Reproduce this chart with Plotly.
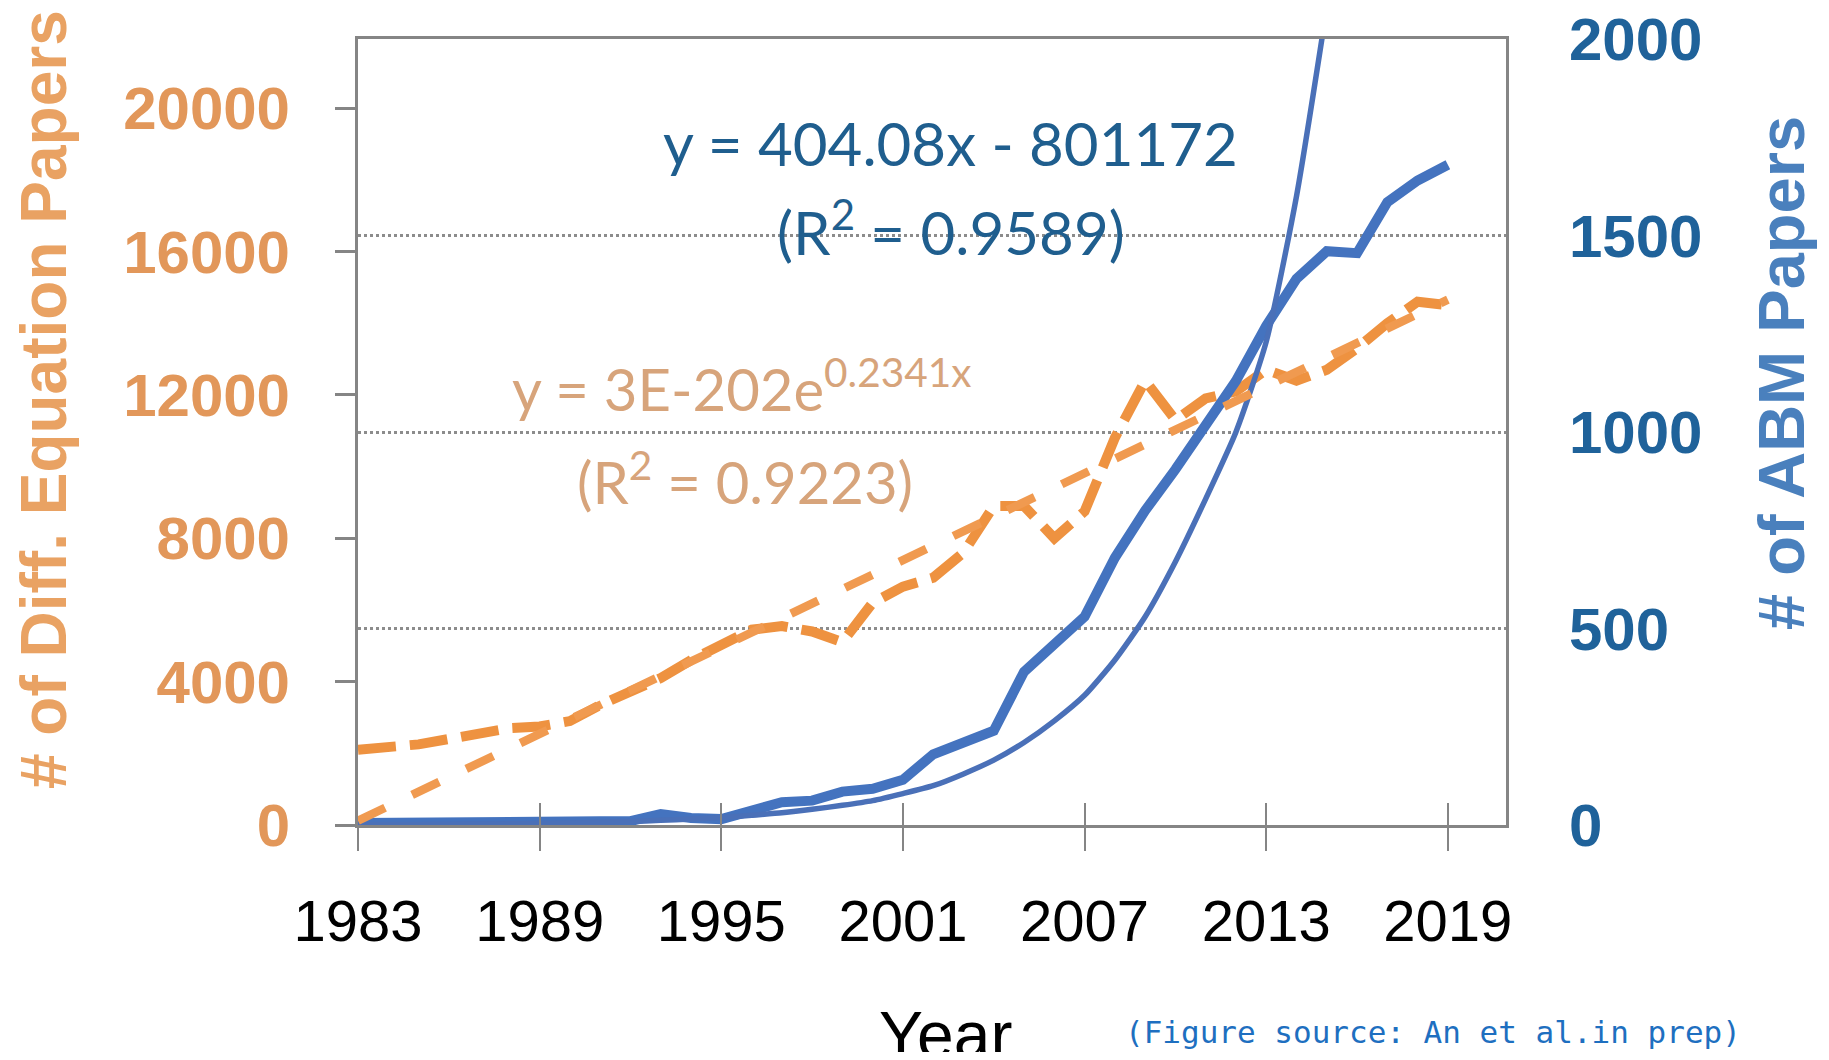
import plotly.graph_objects as go

# ---------------- data ----------------
years = list(range(1983, 2020))

# Differential-equation papers (left axis)
diff_eq_papers = [2100, 2150, 2250, 2400, 2550, 2700, 2750, 2900, 3350, 3700,
                  4100, 4600, 5000, 5450, 5550, 5400, 5100, 6200, 6650, 6900,
                  7600, 8900, 8900, 8000, 8750, 10800, 12400, 11300, 11900, 12100,
                  12700, 12400, 12700, 13300, 14000, 14600, 14500]

# linear trend line of the diff-eq papers (end points)
diff_trend_years = [1983, 2019]
diff_trend_vals = [120, 14660]

# ABM papers (right axis)
abm_papers = [5, 5, 5, 5, 5, 5, 5, 5, 5, 10,
              28, 18, 15, 35, 58, 62, 85, 92, 115, 180,
              210, 240, 390, 460, 530, 680, 800, 905, 1015, 1130,
              1270, 1390, 1460, 1455, 1585, 1640, 1680]

# exponential trend line of the ABM papers (leaves the top)
abm_trend_years = list(range(1983, 2016))
abm_trend_vals = [1, 1.2, 1.5, 2, 2.5, 3, 4, 5, 7, 9,
                  12, 15, 19, 25, 31, 40, 50, 62, 80, 100,
                  130, 165, 210, 265, 330, 420, 530, 670, 830, 1000,
                  1230, 1600, 2080]

x_tick_vals = [1983, 1989, 1995, 2001, 2007, 2013, 2019]
left_tick_vals = [0, 4000, 8000, 12000, 16000, 20000]
right_tick_vals = [0, 500, 1000, 1500, 2000]

# ---------------- layout geometry ----------------
# the page body has an 8px margin, so the figure is a little smaller
OFF = 8
W, H = 1829 - 2 * OFF, 1060 - 2 * OFF
# plot area in page pixels
L, R, T, B = 358, 1506, 39, 825


def px_x(p):
    return (p - L) / (R - L)


def px_y(p):
    return (B - p) / (B - T)


ORANGE = "#EE9240"
ORANGE_T = "#F09A50"
BLUE = "#4473BF"
BLUE_T = "#4A70B8"
AXIS_GREY = "#858585"

fig = go.Figure()

fig.add_trace(go.Scatter(
    x=years, y=abm_papers, mode="lines", xaxis="x", yaxis="y2",
    line=dict(color=BLUE, width=10), name="ABM papers", showlegend=False))
fig.add_trace(go.Scatter(
    x=abm_trend_years, y=abm_trend_vals, mode="lines", xaxis="x", yaxis="y2",
    line=dict(color=BLUE_T, width=5.5, shape="spline", smoothing=0.6),
    name="ABM trend", showlegend=False))
fig.add_trace(go.Scatter(
    x=diff_trend_years, y=diff_trend_vals, mode="lines", xaxis="x3", yaxis="y",
    line=dict(color=ORANGE_T, width=8.5, dash="30px,30px"),
    name="Diff. eq. trend", showlegend=False))
fig.add_trace(go.Scatter(
    x=years, y=diff_eq_papers, mode="lines", xaxis="x", yaxis="y",
    line=dict(color=ORANGE, width=10, dash="38px,14px"),
    name="Diff. eq. papers", showlegend=False))

xrange = [1983, 2020.92]

fig.update_layout(
    width=W, height=H, autosize=False,
    margin=dict(l=L - OFF, r=W - (R - OFF), t=T - OFF, b=H - (B - OFF), pad=0,
                autoexpand=False),
    paper_bgcolor="white", plot_bgcolor="white",
    showlegend=False,
    xaxis=dict(
        range=xrange, tickmode="array", tickvals=x_tick_vals, automargin=False,
        ticks="outside", ticklen=23, tickwidth=2, tickcolor=AXIS_GREY,
        showline=True, linecolor=AXIS_GREY, linewidth=3, mirror=True,
        showgrid=False, zeroline=False, ticklabeloverflow="allow",
        tickfont=dict(family="Liberation Sans", size=58, color="black"),
        ticklabelstandoff=20,
    ),
    xaxis3=dict(
        range=xrange, overlaying="x", anchor="y", side="bottom", automargin=False,
        tickmode="array", tickvals=x_tick_vals,
        ticks="inside", ticklen=22, tickwidth=2, tickcolor=AXIS_GREY,
        showticklabels=False, showline=False, showgrid=False, zeroline=False,
    ),
    yaxis=dict(
        range=[0, 21930], tickmode="array", tickvals=left_tick_vals,
        tickformat="d", ticklabeloverflow="allow", automargin=False,
        ticks="outside", ticklen=20, tickwidth=3, tickcolor=AXIS_GREY,
        showline=True, linecolor=AXIS_GREY, linewidth=3, mirror=True,
        showgrid=False, zeroline=False,
        tickfont=dict(family="Liberation Sans", size=60, color="#E2975A", weight="bold"),
        ticklabelstandoff=33,
    ),
    yaxis2=dict(
        range=[0, 2000], overlaying="y", side="right", anchor="x",
        tickmode="array", tickvals=right_tick_vals, tickformat="d",
        ticklabeloverflow="allow", automargin=False,
        ticks="", showline=False, zeroline=False,
        showgrid=True, gridcolor="#8C8C8C", gridwidth=3, griddash="dot",
        tickfont=dict(family="Liberation Sans", size=60, color="#1F629A", weight="bold"),
        ticklabelstandoff=62,
    ),
)

annotations = [
    dict(text="y = 404.08x - 801172", x=px_x(950), y=px_y(143),
         font=dict(family="Lato", size=60, color="#1F5E8E")),
    dict(text="(R<sup>2</sup> = 0.9589)", x=px_x(951), y=px_y(228),
         font=dict(family="Lato", size=60, color="#1F5E8E")),
    dict(text="y = 3E-202e<sup>0.2341x</sup>", x=px_x(510), y=px_y(385), xanchor="left",
         font=dict(family="Lato", size=58, color="#D7A47B")),
    dict(text="(R<sup>2</sup> = 0.9223)", x=px_x(745), y=px_y(478),
         font=dict(family="Lato", size=58, color="#D7A47B")),
    dict(text="# of Diff. Equation Papers", x=px_x(44), y=px_y(400), textangle=-90,
         font=dict(family="Liberation Sans", size=64, color="#E9A263", weight="bold")),
    dict(text="# of ABM Papers", x=px_x(1781), y=px_y(373), textangle=-90,
         font=dict(family="Liberation Sans", size=65, color="#4A80BD", weight="bold")),
    dict(text="Year", x=px_x(945), y=px_y(996), yanchor="top",
         font=dict(family="Liberation Sans", size=66, color="black")),
    dict(text="(Figure source: An et al.in prep)", x=px_x(1123), y=px_y(1032), xanchor="left",
         font=dict(family="DejaVu Sans Mono", size=31, color="#1E6FC0")),
]
for a in annotations:
    a.setdefault("xanchor", "center")
    a.setdefault("yanchor", "middle")
    fig.add_annotation(xref="paper", yref="paper", showarrow=False, **a)

fig.write_html("out.html")
